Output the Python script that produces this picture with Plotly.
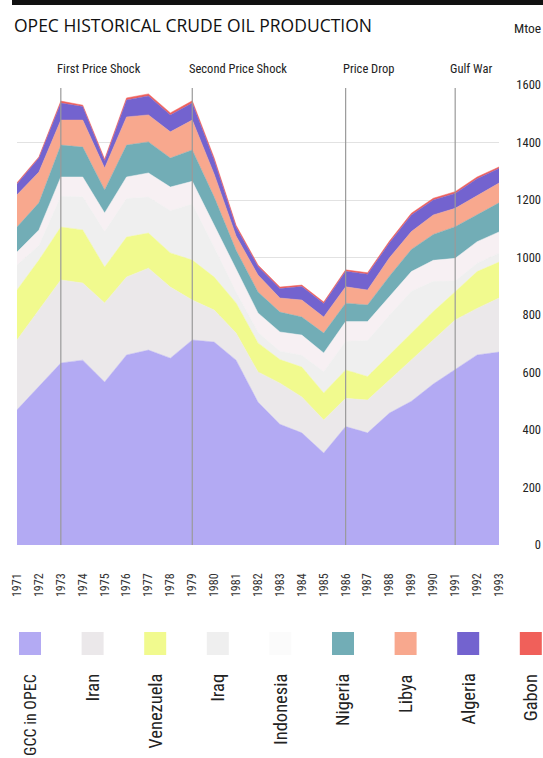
import plotly.graph_objects as go

# ---------------- data (Mtoe) ----------------
years = list(range(1971, 1994))

gcc       = [470, 550, 633, 643, 567, 661, 678, 650, 713, 706, 643, 497, 420, 390, 320, 412, 390, 459, 500, 560, 610, 661, 671]
iran      = [243, 267, 289, 268, 275, 271, 285, 247, 139, 111, 94, 105, 143, 125, 115, 98, 114, 115, 143, 153, 173, 162, 188]
venezuela = [174, 174, 184, 185, 125, 139, 122, 119, 139, 115, 105, 101, 82, 104, 94, 99, 82, 87, 93, 99, 98, 128, 125]
iraq      = [87, 51, 107, 115, 123, 134, 125, 147, 195, 104, 38, 37, 29, 41, 74, 100, 125, 138, 147, 105, 37, 29, 31]
indonesia = [45, 54, 67, 69, 65, 75, 84, 82, 79, 79, 80, 67, 67, 70, 65, 68, 66, 65, 68, 73, 79, 75, 74]
nigeria   = [87, 94, 111, 104, 80, 111, 108, 101, 109, 95, 65, 73, 69, 63, 69, 64, 58, 71, 77, 90, 110, 93, 101]
libya     = [112, 107, 87, 94, 76, 98, 94, 91, 104, 80, 50, 59, 49, 59, 56, 57, 52, 64, 62, 68, 64, 67, 69]
algeria   = [38, 49, 59, 47, 25, 59, 66, 59, 59, 48, 30, 30, 33, 47, 47, 54, 55, 52, 58, 52, 52, 59, 51]
gabon     = [4, 4, 7, 5, 6, 7, 7, 7, 8, 8, 7, 5, 5, 5, 5, 5, 5, 6, 6, 6, 6, 6, 5]

series_names = ["GCC in OPEC", "Iran", "Venezuela", "Iraq", "Indonesia", "Nigeria", "Libya", "Algeria", "Gabon"]
series_values = [gcc, iran, venezuela, iraq, indonesia, nigeria, libya, algeria, gabon]
series_colors = ["#b3aaf3", "#ebe8ea", "#f1fa8e", "#efefef", "#f7f0f3", "#72adb6", "#f8a88e", "#7363cf", "#f0605a"]

event_years = [1973, 1979, 1986, 1991]
event_labels = ["First Price Shock", "Second Price Shock", "Price Drop", "Gulf War"]

y_ticks = [0, 200, 400, 600, 800, 1000, 1200, 1400, 1600]

# ---------------- geometry helpers ----------------
W, H = 543, 758
LM, RM, TM, BM = 17, 0, 85, 213
PW = W - LM - RM
PH = H - TM - BM


def px(x):
    return (x - LM) / PW


def py(y):
    return (H - BM - y) / PH


NARROW = "Roboto Condensed, Roboto, sans-serif"

fig = go.Figure()
for name, vals, col in zip(series_names, series_values, series_colors):
    fig.add_trace(go.Scatter(
        x=years, y=vals, name=name, stackgroup="one", mode="lines",
        line=dict(width=0.5, color=col), fillcolor=col,
        hoverinfo="skip", showlegend=False,
    ))

shapes = []
for yr in event_years:
    shapes.append(dict(type="line", xref="x", yref="y", x0=yr, x1=yr, y0=0, y1=1590,
                       line=dict(color="#9a9a9a", width=1.2), layer="above"))
# thick black rule at top
shapes.append(dict(type="rect", xref="paper", yref="paper", x0=px(12), x1=px(543),
                   y0=py(5), y1=py(0), fillcolor="#111111", line=dict(width=0)))

annotations = []
annotations.append(dict(text="OPEC HISTORICAL CRUDE OIL PRODUCTION", xref="paper", yref="paper",
                        x=px(12), y=py(25), xanchor="left", yanchor="middle", showarrow=False,
                        font=dict(family="Open Sans, DejaVu Sans, sans-serif", size=17.5, color="#111")))
annotations.append(dict(text="Mtoe", xref="paper", yref="paper", x=px(543), y=py(28),
                        xanchor="right", yanchor="middle", showarrow=False,
                        font=dict(family=NARROW, size=13.5, color="#222")))
event_left = [55, 187, 341, 448]
for lbl, xl in zip(event_labels, event_left):
    annotations.append(dict(text=lbl, xref="paper", yref="paper", x=px(xl), y=py(69),
                            xanchor="left", yanchor="middle", showarrow=False,
                            font=dict(family=NARROW, size=12.5, color="#222")))

# custom legend: squares and rotated labels
for i, (name, col) in enumerate(zip(series_names, series_colors)):
    cx = 30 + 62.6 * i
    sw_col = "#fbfbfb" if name == "Indonesia" else col
    fsize = 16 if i == 0 else 18.5
    shapes.append(dict(type="rect", xref="paper", yref="paper", x0=px(cx - 11), x1=px(cx + 11),
                       y0=py(655), y1=py(632), fillcolor=sw_col, line=dict(width=0)))
    annotations.append(dict(text=name, xref="paper", yref="paper", x=px(cx), y=py(672),
                            xanchor="center", yanchor="top", textangle=-90, showarrow=False,
                            font=dict(family=NARROW, size=fsize, color="#222")))

fig.update_layout(
    width=W, height=H,
    margin=dict(l=LM, r=RM, t=TM, b=BM, autoexpand=False),
    paper_bgcolor="white", plot_bgcolor="white",
    xaxis=dict(domain=[0, px(499)], range=[1971, 1993], tickmode="array", tickvals=years,
               ticktext=[str(y) for y in years], tickangle=-90, showgrid=False, zeroline=False,
               showline=False, ticks="", ticklabelstandoff=25, automargin=False,
               tickfont=dict(family=NARROW, size=12, color="#333")),
    yaxis=dict(range=[0, 1600], domain=[0, 1], side="left", anchor="free", position=1,
               tickmode="array", tickvals=y_ticks, showgrid=True, gridcolor="#e2e2e2", gridwidth=1,
               zeroline=False, showline=False, ticks="", ticklabelstandoff=2, automargin=False,
               tickfont=dict(family=NARROW, size=12.5, color="#222")),
    shapes=shapes, annotations=annotations,
)

fig.write_html("out.html", config={"displayModeBar": False},
               post_script="document.body.style.margin='0px';document.body.style.overflow='hidden';")
